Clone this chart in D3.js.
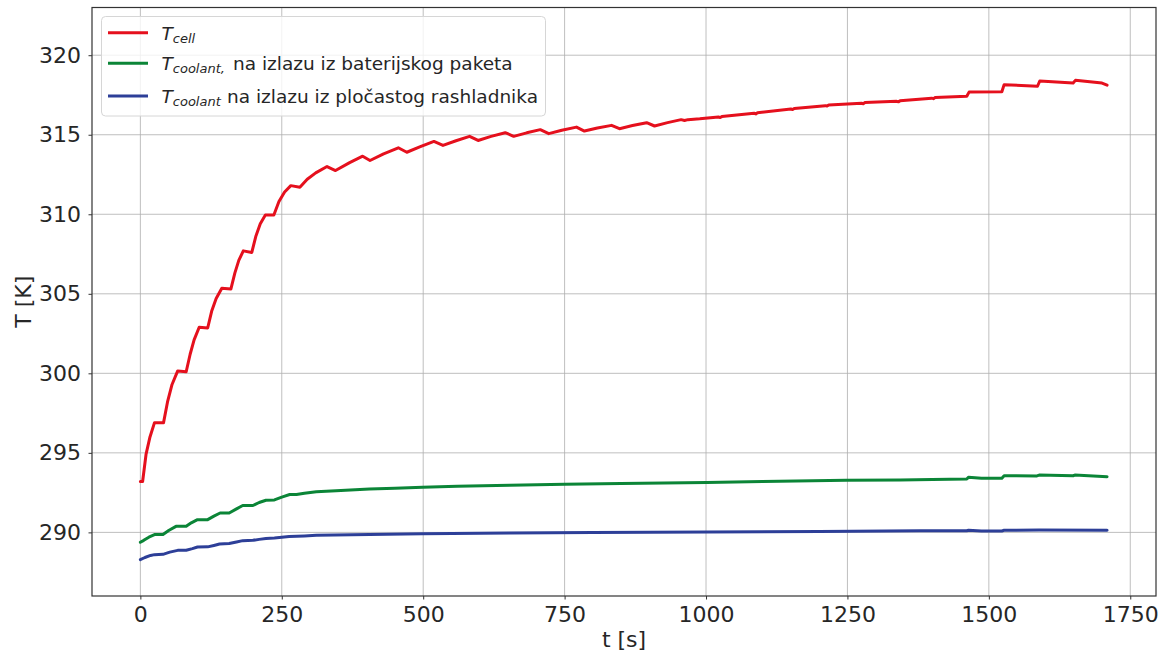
<!DOCTYPE html>
<html>
<head>
<meta charset="utf-8">
<script src="https://cdn.jsdelivr.net/npm/d3@7"></script>
<style>
    body { margin: 0; background: #fff; }
    text { font-family: "DejaVu Sans", sans-serif; fill: #262626; }
</style>
</head>
<body>
<svg id="chart" width="1165" height="655"></svg>
<script>
// time [s] and temperature [K]
const cellTime = [0, 4, 10, 17, 25, 41, 48, 56, 66, 81, 88, 95, 104, 119, 126, 134, 144, 160, 167, 174,
    182, 197, 204, 212, 221, 236, 245, 255, 266, 282, 295, 310, 330, 345, 370, 393, 406, 430, 456, 471,
    495, 519, 535, 558, 582, 597, 620, 645, 660, 683, 707, 722, 745, 771, 785, 808, 833, 847, 870, 895,
    909, 932, 956, 962, 968, 989, 1022, 1025, 1028, 1085, 1088, 1091, 1150, 1153, 1156, 1211, 1214, 1217,
    1275, 1278, 1281, 1337, 1340, 1343, 1399, 1402, 1405, 1461, 1465, 1523, 1527, 1586, 1590, 1649, 1653,
    1700, 1709];
const cellTemp = [293.2, 293.2, 294.9, 296.0, 296.9, 296.9, 298.2, 299.3, 300.15, 300.1, 301.2, 302.1, 302.9, 302.85, 303.9, 304.7, 305.35, 305.3, 306.3, 307.1,
    307.7, 307.6, 308.6, 309.4, 309.95, 309.95, 310.8, 311.4, 311.8, 311.7, 312.2, 312.6, 313.0, 312.75, 313.25, 313.65, 313.38, 313.8, 314.18, 313.9,
    314.25, 314.58, 314.33, 314.62, 314.9, 314.64, 314.9, 315.13, 314.9, 315.12, 315.32, 315.07, 315.28, 315.48, 315.23, 315.42, 315.59, 315.38, 315.58, 315.76,
    315.55, 315.76, 315.95, 315.9, 315.95, 316.0, 316.12, 316.08, 316.14, 316.35, 316.31, 316.38, 316.62, 316.58, 316.65, 316.83, 316.8, 316.87,
    316.98, 316.95, 317.02, 317.1, 317.07, 317.13, 317.3, 317.27, 317.34, 317.42, 317.68, 317.7, 318.15, 318.05, 318.38, 318.25, 318.42,
    318.25, 318.12];

const packTime = [0, 6, 15, 25, 40, 50, 63, 81, 90, 101, 119, 130, 141, 157, 170, 181, 199, 210, 222, 237,
    250, 264, 276, 290, 311, 346, 405, 450, 499, 560, 653, 750, 850, 1001, 1100, 1248, 1343, 1400, 1461, 1464,
    1487, 1523, 1527, 1585, 1589, 1649, 1652, 1709];
const packTemp = [289.38, 289.5, 289.7, 289.86, 289.87, 290.12, 290.38, 290.38, 290.6, 290.8, 290.8, 291.02, 291.22, 291.22, 291.48, 291.69, 291.69, 291.88, 292.02, 292.04,
    292.22, 292.38, 292.38, 292.46, 292.55, 292.62, 292.72, 292.78, 292.84, 292.9, 292.97, 293.03, 293.07, 293.13, 293.2, 293.27, 293.3, 293.33, 293.35, 293.47,
    293.4, 293.4, 293.56, 293.55, 293.6, 293.56, 293.6, 293.5];

const plateTime = [0, 8, 18, 25, 40, 52, 66, 81, 92, 101, 119, 130, 140, 157, 170, 181, 199, 210, 222, 237,
    250, 263, 290, 311, 405, 499, 653, 800, 1001, 1200, 1378, 1461, 1464, 1487, 1523, 1527, 1589, 1709];
const plateTemp = [288.29, 288.42, 288.55, 288.6, 288.62, 288.76, 288.87, 288.88, 288.98, 289.08, 289.09, 289.18, 289.27, 289.3, 289.4, 289.48, 289.5, 289.56, 289.61, 289.64,
    289.69, 289.74, 289.78, 289.82, 289.86, 289.92, 289.96, 289.99, 290.02, 290.06, 290.1, 290.1, 290.13, 290.08, 290.09, 290.13, 290.15, 290.13];

const xTicks = [0, 250, 500, 750, 1000, 1250, 1500, 1750];
const yTicks = [290, 295, 300, 305, 310, 315, 320];

const seriesNames = ["cell", "pack", "plate"];
const seriesColors = ["#e5101d", "#0b8537", "#2d3f98"];

const plotLeft = 92, plotRight = 1156, plotTop = 7.5, plotBottom = 596;

const svg = d3.select("#chart");

const x = d3.scaleLinear().domain([-85.5, 1795.5]).range([plotLeft, plotRight]);
const y = d3.scaleLinear().domain([286, 323]).range([plotBottom, plotTop]);

// grid
svg.append("g")
    .selectAll("line")
    .data(xTicks)
    .join("line")
    .attr("x1", d => x(d)).attr("x2", d => x(d))
    .attr("y1", plotTop).attr("y2", plotBottom)
    .style("stroke", "#b0b0b0").style("stroke-width", 1).style("opacity", 0.8);
svg.append("g")
    .selectAll("line")
    .data(yTicks)
    .join("line")
    .attr("x1", plotLeft).attr("x2", plotRight)
    .attr("y1", d => y(d)).attr("y2", d => y(d))
    .style("stroke", "#b0b0b0").style("stroke-width", 1).style("opacity", 0.8);

// axes
const xAxis = svg.append("g")
    .attr("transform", "translate(0," + plotBottom + ")")
    .call(d3.axisBottom(x).tickValues(xTicks).tickFormat(d3.format("d"))
        .tickSize(3.5).tickPadding(7).tickSizeOuter(0));
const yAxis = svg.append("g")
    .attr("transform", "translate(" + plotLeft + ",0)")
    .call(d3.axisLeft(y).tickValues(yTicks).tickFormat(d3.format("d"))
        .tickSize(3.5).tickPadding(7.5).tickSizeOuter(0));
for (const ax of [xAxis, yAxis]) {
    ax.select(".domain").remove();
    ax.selectAll("line").style("stroke", "#333");
    ax.selectAll("text").style("font-size", "22px").style("fill", "#262626")
        .style("font-family", "'DejaVu Sans', sans-serif");
}

// lines
const pairs = [
    d3.zip(cellTime, cellTemp),
    d3.zip(packTime, packTemp),
    d3.zip(plateTime, plateTemp)
];
const line = d3.line().x(d => x(d[0])).y(d => y(d[1]));
svg.append("g")
    .selectAll("path")
    .data(pairs)
    .join("path")
    .attr("d", line)
    .attr("fill", "none")
    .attr("stroke", (d, i) => seriesColors[i])
    .attr("stroke-width", 3)
    .attr("stroke-linejoin", "round")
    .attr("stroke-linecap", "round");

// frame
svg.append("rect")
    .attr("x", plotLeft).attr("y", plotTop)
    .attr("width", plotRight - plotLeft).attr("height", plotBottom - plotTop)
    .attr("fill", "none")
    .style("stroke", "#333").style("stroke-width", 1.2);

// axis labels
svg.append("text")
    .attr("x", (plotLeft + plotRight) / 2).attr("y", 647)
    .attr("text-anchor", "middle")
    .style("font-size", "22px")
    .text("t [s]");
svg.append("text")
    .attr("transform", "translate(31," + ((plotTop + plotBottom) / 2) + ") rotate(-90)")
    .attr("text-anchor", "middle")
    .style("font-size", "22px")
    .text("T [K]");

// legend
const legend = svg.append("g");
legend.append("rect")
    .attr("x", 101.5).attr("y", 16.5)
    .attr("width", 444).attr("height", 99.5)
    .attr("rx", 4)
    .attr("fill", "#fff").attr("fill-opacity", 0.8)
    .style("stroke", "#d6d6d6").style("stroke-width", 1);

const rowY = [32.7, 63.3, 96];
const labelSub = ["cell", "coolant,", "coolant"];
const labelRest = ["", "na izlazu iz baterijskog paketa", "na izlazu iz pločastog rashladnika"];
const restX = [0, 233, 227];

seriesNames.forEach((name, i) => {
    legend.append("line")
        .attr("x1", 108).attr("x2", 148)
        .attr("y1", rowY[i]).attr("y2", rowY[i])
        .style("stroke", seriesColors[i]).style("stroke-width", 3);
    const t = legend.append("text")
        .attr("x", 161.5).attr("y", rowY[i] + 7)
        .style("font-size", "18.5px");
    t.append("tspan").style("font-style", "italic").text("T");
    t.append("tspan")
        .style("font-style", "italic").style("font-size", "13px")
        .attr("dy", 3).text(labelSub[i]);
    if (labelRest[i]) {
        legend.append("text")
            .attr("x", restX[i]).attr("y", rowY[i] + 6.5)
            .style("font-size", "18.5px")
            .text(labelRest[i]);
    }
});
</script>
</body>
</html>
